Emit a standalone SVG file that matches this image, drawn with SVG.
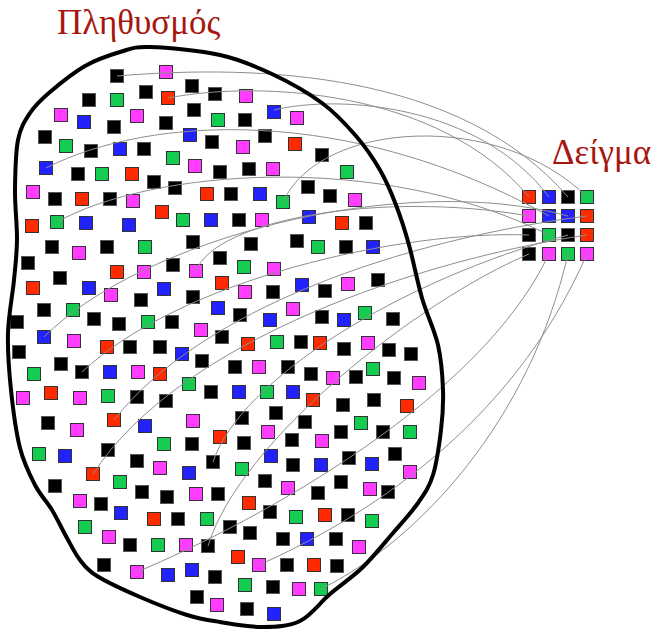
<svg xmlns="http://www.w3.org/2000/svg" width="652" height="629" viewBox="0 0 652 629">
<style>
rect{width:13px;height:13px;stroke:#333;stroke-width:1}
.k{fill:#000;stroke:#555}
.m{fill:#ff3cff}
.g{fill:#14cc50}
.b{fill:#2222ff}
.r{fill:#ff2a00}
.ln{fill:none;stroke:#8e8e8e;stroke-width:1}
.title{font-family:"Liberation Serif","DejaVu Serif",serif;font-size:35px;fill:#a8170f}
</style>
<rect width="652" height="629" style="width:652px;height:629px;fill:#fff;stroke:none"/>
<g id="population">
<text class="title" x="57" y="34">Πληθυσμός</text>
<g id="population-squares">
<rect class="k" x="110.5" y="69.5"/><rect class="m" x="159.5" y="65.5"/><rect class="k" x="185.5" y="79.5"/><rect class="k" x="82.5" y="93.5"/><rect class="g" x="110.5" y="93.5"/><rect class="k" x="139.5" y="85.5"/><rect class="r" x="161.5" y="91.5"/><rect class="k" x="187.5" y="103.5"/><rect class="k" x="208.5" y="87.5"/><rect class="m" x="54.5" y="108.5"/><rect class="b" x="77.5" y="115.5"/><rect class="k" x="107.5" y="120.5"/><rect class="m" x="130.5" y="109.5"/><rect class="k" x="159.5" y="116.5"/><rect class="g" x="211.5" y="113.5"/><rect class="b" x="183.5" y="128.5"/><rect class="k" x="205.5" y="135.5"/><rect class="k" x="38.5" y="130.5"/><rect class="g" x="59.5" y="139.5"/><rect class="k" x="84.5" y="144.5"/><rect class="b" x="113.5" y="142.5"/><rect class="k" x="137.5" y="142.5"/><rect class="g" x="166.5" y="151.5"/><rect class="m" x="188.5" y="159.5"/><rect class="k" x="213.5" y="165.5"/><rect class="b" x="39.5" y="161.5"/><rect class="k" x="71.5" y="167.5"/><rect class="g" x="95.5" y="167.5"/><rect class="r" x="125.5" y="167.5"/><rect class="k" x="147.5" y="175.5"/><rect class="k" x="168.5" y="181.5"/><rect class="r" x="200.5" y="187.5"/><rect class="m" x="26.5" y="185.5"/><rect class="k" x="48.5" y="192.5"/><rect class="r" x="75.5" y="192.5"/><rect class="k" x="103.5" y="192.5"/><rect class="m" x="126.5" y="194.5"/><rect class="r" x="155.5" y="205.5"/><rect class="g" x="176.5" y="213.5"/><rect class="b" x="204.5" y="213.5"/><rect class="r" x="25.5" y="219.5"/><rect class="g" x="50.5" y="215.5"/><rect class="b" x="79.5" y="216.5"/><rect class="b" x="122.5" y="218.5"/><rect class="k" x="45.5" y="240.5"/><rect class="m" x="72.5" y="246.5"/><rect class="k" x="100.5" y="240.5"/><rect class="g" x="138.5" y="240.5"/><rect class="k" x="186.5" y="235.5"/>
<rect class="m" x="239.5" y="89.5"/><rect class="b" x="267.5" y="105.5"/><rect class="m" x="290.5" y="111.5"/><rect class="k" x="238.5" y="113.5"/><rect class="k" x="258.5" y="129.5"/><rect class="r" x="288.5" y="137.5"/><rect class="m" x="236.5" y="140.5"/><rect class="k" x="315.5" y="148.5"/><rect class="k" x="242.5" y="162.5"/><rect class="m" x="266.5" y="162.5"/><rect class="g" x="340.5" y="165.5"/><rect class="k" x="224.5" y="187.5"/><rect class="b" x="253.5" y="187.5"/><rect class="g" x="276.5" y="195.5"/><rect class="k" x="301.5" y="180.5"/><rect class="k" x="323.5" y="189.5"/><rect class="m" x="348.5" y="193.5"/><rect class="k" x="232.5" y="213.5"/><rect class="m" x="255.5" y="213.5"/><rect class="b" x="302.5" y="210.5"/><rect class="r" x="335.5" y="216.5"/><rect class="k" x="359.5" y="216.5"/><rect class="k" x="244.5" y="237.5"/><rect class="k" x="290.5" y="234.5"/><rect class="g" x="311.5" y="240.5"/><rect class="k" x="339.5" y="240.5"/><rect class="b" x="366.5" y="240.5"/>
<rect class="k" x="21.5" y="256.5"/><rect class="r" x="110.5" y="265.5"/><rect class="m" x="137.5" y="265.5"/><rect class="k" x="166.5" y="258.5"/><rect class="m" x="189.5" y="264.5"/><rect class="r" x="26.5" y="281.5"/><rect class="k" x="53.5" y="271.5"/><rect class="b" x="82.5" y="281.5"/><rect class="m" x="104.5" y="288.5"/><rect class="k" x="134.5" y="293.5"/><rect class="b" x="157.5" y="282.5"/><rect class="k" x="186.5" y="290.5"/><rect class="r" x="215.5" y="276.5"/><rect class="b" x="211.5" y="301.5"/><rect class="k" x="37.5" y="303.5"/><rect class="g" x="66.5" y="303.5"/><rect class="k" x="87.5" y="312.5"/><rect class="k" x="112.5" y="317.5"/><rect class="g" x="141.5" y="315.5"/><rect class="k" x="165.5" y="315.5"/><rect class="m" x="194.5" y="323.5"/><rect class="k" x="10.5" y="315.5"/><rect class="b" x="37.5" y="330.5"/><rect class="m" x="67.5" y="334.5"/><rect class="r" x="100.5" y="340.5"/><rect class="k" x="123.5" y="340.5"/><rect class="k" x="153.5" y="340.5"/><rect class="b" x="175.5" y="347.5"/><rect class="k" x="195.5" y="354.5"/><rect class="k" x="215.5" y="330.5"/><rect class="k" x="12.5" y="345.5"/><rect class="k" x="54.5" y="357.5"/><rect class="k" x="75.5" y="365.5"/><rect class="b" x="103.5" y="365.5"/><rect class="m" x="131.5" y="365.5"/><rect class="r" x="153.5" y="367.5"/><rect class="g" x="27.5" y="367.5"/><rect class="r" x="44.5" y="386.5"/><rect class="m" x="16.5" y="391.5"/><rect class="m" x="73.5" y="391.5"/><rect class="g" x="101.5" y="389.5"/><rect class="k" x="130.5" y="390.5"/><rect class="k" x="159.5" y="394.5"/><rect class="g" x="182.5" y="377.5"/><rect class="k" x="204.5" y="385.5"/><rect class="k" x="41.5" y="416.5"/><rect class="m" x="70.5" y="423.5"/><rect class="r" x="107.5" y="413.5"/><rect class="b" x="138.5" y="419.5"/><rect class="m" x="186.5" y="414.5"/><rect class="r" x="213.5" y="430.5"/><rect class="g" x="32.5" y="447.5"/><rect class="b" x="58.5" y="449.5"/><rect class="k" x="101.5" y="443.5"/><rect class="g" x="157.5" y="437.5"/><rect class="k" x="185.5" y="437.5"/>
<rect class="k" x="213.5" y="251.5"/><rect class="g" x="237.5" y="260.5"/><rect class="m" x="267.5" y="262.5"/><rect class="m" x="238.5" y="285.5"/><rect class="k" x="266.5" y="285.5"/><rect class="b" x="295.5" y="278.5"/><rect class="k" x="318.5" y="284.5"/><rect class="m" x="341.5" y="277.5"/><rect class="k" x="371.5" y="273.5"/><rect class="k" x="233.5" y="308.5"/><rect class="m" x="286.5" y="302.5"/><rect class="b" x="263.5" y="313.5"/><rect class="k" x="315.5" y="310.5"/><rect class="b" x="337.5" y="313.5"/><rect class="g" x="358.5" y="306.5"/><rect class="k" x="386.5" y="312.5"/><rect class="r" x="241.5" y="337.5"/><rect class="g" x="270.5" y="335.5"/><rect class="k" x="294.5" y="335.5"/><rect class="r" x="313.5" y="336.5"/><rect class="k" x="337.5" y="342.5"/><rect class="m" x="361.5" y="336.5"/><rect class="k" x="382.5" y="343.5"/><rect class="k" x="404.5" y="347.5"/><rect class="k" x="228.5" y="360.5"/><rect class="m" x="252.5" y="360.5"/><rect class="k" x="281.5" y="360.5"/><rect class="k" x="304.5" y="367.5"/><rect class="m" x="326.5" y="371.5"/><rect class="k" x="349.5" y="370.5"/><rect class="g" x="366.5" y="362.5"/><rect class="k" x="387.5" y="371.5"/><rect class="m" x="412.5" y="376.5"/><rect class="b" x="232.5" y="385.5"/><rect class="g" x="260.5" y="385.5"/><rect class="b" x="286.5" y="385.5"/><rect class="r" x="306.5" y="393.5"/><rect class="k" x="336.5" y="398.5"/><rect class="k" x="367.5" y="393.5"/><rect class="r" x="400.5" y="399.5"/><rect class="k" x="235.5" y="411.5"/><rect class="k" x="269.5" y="406.5"/><rect class="k" x="298.5" y="415.5"/><rect class="g" x="354.5" y="416.5"/><rect class="k" x="334.5" y="425.5"/><rect class="k" x="376.5" y="425.5"/><rect class="g" x="403.5" y="425.5"/><rect class="m" x="261.5" y="425.5"/><rect class="k" x="237.5" y="436.5"/><rect class="k" x="285.5" y="433.5"/><rect class="m" x="315.5" y="434.5"/>
<rect class="k" x="206.5" y="455.5"/><rect class="k" x="130.5" y="454.5"/><rect class="r" x="86.5" y="467.5"/><rect class="m" x="153.5" y="461.5"/><rect class="b" x="182.5" y="466.5"/><rect class="k" x="48.5" y="479.5"/><rect class="g" x="113.5" y="475.5"/><rect class="k" x="135.5" y="485.5"/><rect class="k" x="160.5" y="490.5"/><rect class="m" x="189.5" y="487.5"/><rect class="k" x="211.5" y="487.5"/><rect class="m" x="73.5" y="494.5"/><rect class="k" x="94.5" y="497.5"/><rect class="b" x="114.5" y="506.5"/><rect class="r" x="147.5" y="512.5"/><rect class="k" x="171.5" y="512.5"/><rect class="g" x="200.5" y="512.5"/><rect class="g" x="78.5" y="520.5"/><rect class="m" x="102.5" y="530.5"/><rect class="k" x="123.5" y="538.5"/><rect class="g" x="151.5" y="538.5"/><rect class="m" x="179.5" y="538.5"/><rect class="k" x="201.5" y="539.5"/><rect class="k" x="97.5" y="558.5"/><rect class="m" x="130.5" y="565.5"/><rect class="b" x="161.5" y="568.5"/><rect class="b" x="185.5" y="563.5"/><rect class="k" x="208.5" y="570.5"/><rect class="k" x="190.5" y="590.5"/><rect class="m" x="210.5" y="598.5"/>
<rect class="b" x="264.5" y="449.5"/><rect class="g" x="235.5" y="462.5"/><rect class="k" x="286.5" y="458.5"/><rect class="b" x="314.5" y="458.5"/><rect class="k" x="342.5" y="451.5"/><rect class="b" x="365.5" y="457.5"/><rect class="k" x="388.5" y="447.5"/><rect class="m" x="403.5" y="465.5"/><rect class="k" x="258.5" y="474.5"/><rect class="m" x="281.5" y="481.5"/><rect class="k" x="311.5" y="486.5"/><rect class="k" x="334.5" y="475.5"/><rect class="m" x="363.5" y="482.5"/><rect class="k" x="381.5" y="485.5"/><rect class="r" x="242.5" y="496.5"/><rect class="k" x="263.5" y="505.5"/><rect class="g" x="289.5" y="510.5"/><rect class="r" x="318.5" y="508.5"/><rect class="k" x="341.5" y="508.5"/><rect class="g" x="365.5" y="514.5"/><rect class="k" x="223.5" y="520.5"/><rect class="k" x="243.5" y="526.5"/><rect class="k" x="276.5" y="532.5"/><rect class="b" x="300.5" y="532.5"/><rect class="k" x="329.5" y="532.5"/><rect class="m" x="352.5" y="540.5"/><rect class="r" x="231.5" y="550.5"/><rect class="m" x="252.5" y="558.5"/><rect class="k" x="280.5" y="558.5"/><rect class="r" x="307.5" y="558.5"/><rect class="k" x="330.5" y="559.5"/><rect class="g" x="238.5" y="578.5"/><rect class="k" x="266.5" y="580.5"/><rect class="m" x="292.5" y="582.5"/><rect class="g" x="314.5" y="582.5"/><rect class="k" x="240.5" y="602.5"/><rect class="b" x="267.5" y="607.5"/>
</g>
</g>
<g id="sample">
<text class="title" x="552" y="164">Δείγμα</text>
<rect class="r" x="522.5" y="190.5"/><rect class="b" x="542.5" y="190.5"/><rect class="k" x="561.5" y="190.5"/><rect class="g" x="580.5" y="190.5"/>
<rect class="m" x="522.5" y="209.5"/><rect class="b" x="542.5" y="209.5"/><rect class="b" x="561.5" y="209.5"/><rect class="r" x="580.5" y="209.5"/>
<rect class="k" x="522.5" y="228.5"/><rect class="g" x="542.5" y="228.5"/><rect class="k" x="561.5" y="228.5"/><rect class="r" x="580.5" y="228.5"/>
<rect class="k" x="522.5" y="247.5"/><rect class="m" x="542.5" y="247.5"/><rect class="g" x="561.5" y="247.5"/><rect class="m" x="580.5" y="247.5"/>
</g>
<g id="connectors">
<path class="ln" d="M117,76 C260,64 460,72 568,197"/>
<path class="ln" d="M168,98 C260,80 440,90 529,197"/>
<path class="ln" d="M274,110 C340,94 480,105 549,197"/>
<path class="ln" d="M46,168 C150,115 350,105 549,216"/>
<path class="ln" d="M57,222 C150,170 380,150 549,235"/>
<path class="ln" d="M283,202 C320,120 500,110 587,197"/>
<path class="ln" d="M196,271 C215,220 380,190 529,216"/>
<path class="ln" d="M44,337 C140,240 400,170 568,216"/>
<path class="ln" d="M82,372 C180,280 400,230 529,235"/>
<path class="ln" d="M114,420 C200,310 400,240 587,216"/>
<path class="ln" d="M93,474 C180,340 420,260 587,235"/>
<path class="ln" d="M213,462 C240,380 400,280 568,235"/>
<path class="ln" d="M208,546 C240,440 420,300 529,254"/>
<path class="ln" d="M137,572 C260,520 480,400 549,254"/>
<path class="ln" d="M259,565 C360,520 510,430 587,254"/>
<path class="ln" d="M321,589 C420,540 530,420 568,254"/>
</g>
<g id="outline">
<path fill="none" stroke="#000" stroke-width="4" stroke-linejoin="round" d="M150,47 C166.7,47.5 199.7,50.5 220,55 S255,66 272,74 S308,92.7 322,103 S346.3,124.8 356,136 S373.3,158.5 380,170 S391.2,192.5 396,205 S404.7,229.5 409,245 S417.2,281.3 422,298 S434.5,329.7 438,345 S442.5,375.8 443,390 S442.7,415.8 441,430 S436.8,462.8 433,475 S424.7,493.3 418,503 S402.2,522.3 393,533 S373.5,556.8 363,567 S340.5,585 330,594 S311.2,615.5 300,621 S276.3,626.8 263,627 S232.7,624 220,622 S200.3,619.2 187,615 S155,603.5 140,597 S107,582.2 97,576 S85,566.3 80,560 S71.7,546.3 67,538 S57.3,518.8 52,510 S40.3,495.3 35,485 S24,463.8 20,448 S13,409.2 11,390 S7.5,351.3 8,333 S12.5,295.5 14,280 S16.8,255 17,240 S14.8,206.7 15,190 S15.5,152.8 18,140 S24.7,121 30,113 S40.8,99.8 50,92 S73.3,72.7 85,66 S109.2,55.2 120,52 S133.3,46.5 150,47 Z"/>
</g>
</svg>
